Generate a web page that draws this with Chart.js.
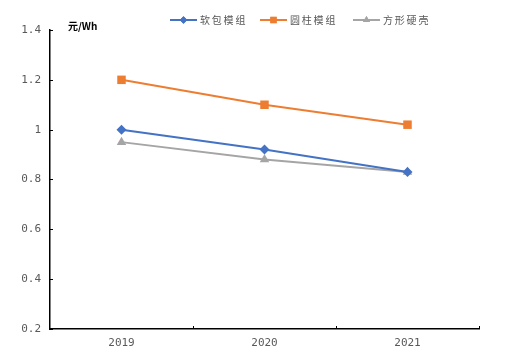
<!DOCTYPE html>
<html>
<head>
<meta charset="utf-8">
<script src="https://cdn.jsdelivr.net/npm/chart.js@4"></script>
<style>
html,body{margin:0;padding:0;background:#fff;}
#wrap{width:505px;height:353px;position:relative;}
</style>
</head>
<body>
<div id="wrap"><canvas id="c" width="505" height="353"></canvas></div>
<script>
const categories = ['2019', '2020', '2021'];
const softPack = [1.00, 0.92, 0.83];
const cylindrical = [1.20, 1.10, 1.02];
const prismatic = [0.95, 0.88, 0.83];
const seriesNames = ['软包模组', '圆柱模组', '方形硬壳'];
const yTicks = [0.2, 0.4, 0.6, 0.8, 1, 1.2, 1.4];
const unitLabel = '元/Wh';

const colors = ['#4472C4', '#ED7D31', '#A5A5A5'];
const styles = ['rectRot', 'rect', 'triangle'];
const radii = [5, 6, 5.5];

const inwardTicks = {
  id: 'inwardTicks',
  afterDraw(chart) {
    const ctx = chart.ctx;
    const x = chart.scales.x, y = chart.scales.y;
    const a = chart.chartArea;
    ctx.save();
    ctx.strokeStyle = '#000';
    ctx.lineWidth = 1;
    ctx.beginPath();
    yTicks.forEach(v => {
      const py = Math.round(y.getPixelForValue(v)) + 0.5;
      ctx.moveTo(a.left, py); ctx.lineTo(a.left + 3, py);
    });
    const step = x.getPixelForValue(1) - x.getPixelForValue(0);
    for (let i = 0; i < categories.length; i++) {
      const px = Math.round(x.getPixelForValue(i) + step / 2) + 0.5;
      ctx.moveTo(px, a.bottom); ctx.lineTo(px, a.bottom - 3);
    }
    ctx.stroke();

    // unit label
    ctx.fillStyle = '#000';
    ctx.font = 'bold 10px "Noto Sans CJK SC", sans-serif';
    ctx.textBaseline = 'middle';
    ctx.textAlign = 'left';
    ctx.fillText(unitLabel, a.left + 18, 26);

    // legend
    const ds = chart.data.datasets;
    const starts = [170, 260, 353];
    ctx.font = '10px "Noto Sans CJK SC", sans-serif';
    ctx.letterSpacing = '1.8px';
    ds.forEach((d, i) => {
      const sx = starts[i], ly = 20;
      ctx.strokeStyle = d.borderColor;
      ctx.lineWidth = 2;
      ctx.beginPath(); ctx.moveTo(sx, ly); ctx.lineTo(sx + 27, ly); ctx.stroke();
      ctx.fillStyle = d.borderColor;
      Chart.helpers.drawPoint(ctx, {pointStyle: d.pointStyle, radius: d.pointRadius * 0.75, rotation: 0, borderWidth: 0}, sx + 13.5, ly);
      ctx.fill();
      ctx.fillStyle = '#595959';
      ctx.fillText(d.label, sx + 30, ly + 0.5);
    });
    ctx.restore();
  }
};

const data = [softPack, cylindrical, prismatic];
new Chart(document.getElementById('c'), {
  type: 'line',
  data: {
    labels: categories,
    datasets: data.map((vals, i) => ({
      label: seriesNames[i],
      data: vals,
      borderColor: colors[i],
      backgroundColor: colors[i],
      pointBackgroundColor: colors[i],
      pointBorderColor: colors[i],
      pointStyle: styles[i],
      pointRadius: radii[i],
      pointBorderWidth: 0,
      borderWidth: 2,
      tension: 0,
      fill: false
    }))
  },
  options: {
    responsive: false,
    animation: false,
    layout: { padding: { top: 30, right: 26, left: 0, bottom: 0 } },
    plugins: { legend: { display: false }, tooltip: { enabled: false } },
    scales: {
      x: {
        offset: true,
        grid: { display: false, drawTicks: false, offset: true },
        border: { display: true, color: '#000', width: 1.5 },
        ticks: { color: '#595959', font: { family: '"DejaVu Sans Mono", monospace', size: 11 }, padding: 8, maxRotation: 0 },
        afterFit(s) { s.height = 24; }
      },
      y: {
        min: 0.2, max: 1.4,
        afterBuildTicks(s) { s.ticks = yTicks.map(v => ({ value: v })); },
        grid: { display: false, drawTicks: false },
        border: { display: true, color: '#000', width: 1.5 },
        ticks: {
          color: '#595959',
          font: { family: '"DejaVu Sans Mono", monospace', size: 11 },
          padding: 9,
          callback: v => String(Math.round(v * 10) / 10)
        },
        afterFit(s) { s.width = 50; }
      }
    }
  },
  plugins: [inwardTicks]
});
</script>
</body>
</html>
